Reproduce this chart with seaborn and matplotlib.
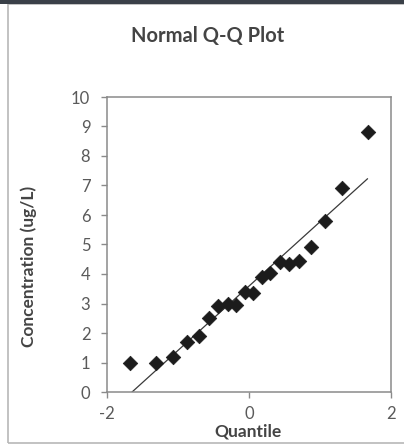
import numpy as np
import matplotlib
matplotlib.use('Agg')
import matplotlib.pyplot as plt
import seaborn as sns
import pandas as pd
from matplotlib.patches import Rectangle

# 数据
quantiles = [-1.67, -1.31, -1.07, -0.88, -0.71, -0.57, -0.43, -0.30, -0.18, -0.06,
             0.06, 0.18, 0.30, 0.43, 0.57, 0.71, 0.88, 1.07, 1.31, 1.67]
concentration = [1.0, 1.0, 1.2, 1.7, 1.9, 2.5, 2.9, 3.0, 2.95, 3.4,
                 3.35, 3.9, 4.05, 4.4, 4.35, 4.45, 4.9, 5.8, 6.9, 8.8]
line_x = [-1.67, 1.67]
line_y = [-0.05, 7.23]
x_ticks = [-2, 0, 2]
y_ticks = list(range(0, 11))

sns.set_theme(style='white')
plt.rcParams['font.family'] = ['Lato', 'DejaVu Sans']
plt.rcParams['axes.unicode_minus'] = False

df = pd.DataFrame({'Quantile': quantiles, 'Concentration': concentration})

fig = plt.figure(figsize=(4.04, 4.44), dpi=100)
# 外框
fig.patches.append(Rectangle((8 / 404, 1 / 444), 1.2, 439 / 444, transform=fig.transFigure,
                             fill=False, edgecolor='#b8b8b8', linewidth=1.2))
fig.patches.append(Rectangle((0, 440 / 444), 1, 4 / 444, transform=fig.transFigure,
                             facecolor='#3a4048', edgecolor='none'))

ax = fig.add_axes([107 / 404, 1 - 392 / 444, 284 / 404, 295 / 444])
sns.lineplot(x=line_x, y=line_y, ax=ax, color='#3a3a3a', linewidth=0.9)
sns.scatterplot(data=df, x='Quantile', y='Concentration', ax=ax, marker='D',
                s=55, color='#1c1c1c', edgecolor='#1c1c1c', linewidth=0.5, zorder=3)

ax.set_xlim(-2, 2)
ax.set_ylim(0, 10)
ax.set_xticks(x_ticks)
ax.set_yticks(y_ticks)
ax.tick_params(axis='both', colors='#8a8a8a', labelcolor='#5a5a5a', labelsize=12,
               length=4, width=1, direction='out', bottom=True, left=True)
ax.tick_params(axis='y', pad=8)
ax.tick_params(axis='x', pad=6)
for s in ax.spines.values():
    s.set_color('#8a8a8a')
    s.set_linewidth(1.1)

ax.set_xlabel('Quantile', fontsize=12.5, fontweight='bold', color='#444444')
ax.xaxis.set_label_coords(0.496, -0.106)
ax.set_ylabel('Concentration (ug/L)', fontsize=12.5, fontweight='bold', color='#444444')
ax.yaxis.set_label_coords(-0.245, 0.427)
fig.text(208 / 404, 1 - 36 / 444, 'Normal Q-Q Plot', ha='center', va='center',
         fontsize=14.5, fontweight='bold', color='#444444')

fig.savefig('out.png', dpi=100, facecolor='white')
